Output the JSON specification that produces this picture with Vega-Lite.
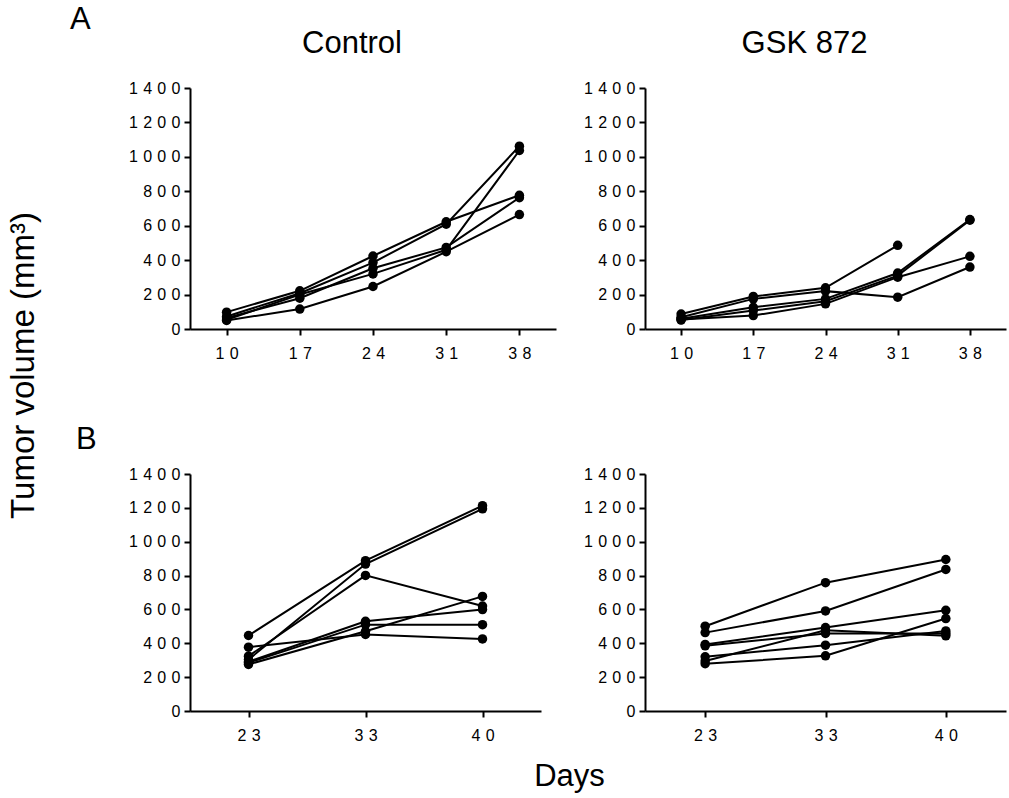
{
  "$schema": "https://vega.github.io/schema/vega-lite/v6.json",
  "background": "white",
  "padding": {"left": 6, "top": 4, "right": 2, "bottom": 2},
  "data": {"values": [
    {"panel": "A-Control", "mouse": "C1", "day": 10, "vol": 98},
    {"panel": "A-Control", "mouse": "C1", "day": 17, "vol": 222},
    {"panel": "A-Control", "mouse": "C1", "day": 24, "vol": 424},
    {"panel": "A-Control", "mouse": "C1", "day": 31, "vol": 623},
    {"panel": "A-Control", "mouse": "C1", "day": 38, "vol": 777},
    {"panel": "A-Control", "mouse": "C2", "day": 10, "vol": 73},
    {"panel": "A-Control", "mouse": "C2", "day": 17, "vol": 208},
    {"panel": "A-Control", "mouse": "C2", "day": 24, "vol": 386},
    {"panel": "A-Control", "mouse": "C2", "day": 31, "vol": 609},
    {"panel": "A-Control", "mouse": "C2", "day": 38, "vol": 1062},
    {"panel": "A-Control", "mouse": "C3", "day": 10, "vol": 64},
    {"panel": "A-Control", "mouse": "C3", "day": 17, "vol": 179},
    {"panel": "A-Control", "mouse": "C3", "day": 24, "vol": 353},
    {"panel": "A-Control", "mouse": "C3", "day": 31, "vol": 474},
    {"panel": "A-Control", "mouse": "C3", "day": 38, "vol": 763},
    {"panel": "A-Control", "mouse": "C4", "day": 10, "vol": 54},
    {"panel": "A-Control", "mouse": "C4", "day": 17, "vol": 200},
    {"panel": "A-Control", "mouse": "C4", "day": 24, "vol": 320},
    {"panel": "A-Control", "mouse": "C4", "day": 31, "vol": 460},
    {"panel": "A-Control", "mouse": "C4", "day": 38, "vol": 1037},
    {"panel": "A-Control", "mouse": "C5", "day": 10, "vol": 50},
    {"panel": "A-Control", "mouse": "C5", "day": 17, "vol": 116},
    {"panel": "A-Control", "mouse": "C5", "day": 24, "vol": 247},
    {"panel": "A-Control", "mouse": "C5", "day": 31, "vol": 449},
    {"panel": "A-Control", "mouse": "C5", "day": 38, "vol": 665},
    {"panel": "A-GSK", "mouse": "G1", "day": 10, "vol": 87},
    {"panel": "A-GSK", "mouse": "G1", "day": 17, "vol": 189},
    {"panel": "A-GSK", "mouse": "G1", "day": 24, "vol": 239},
    {"panel": "A-GSK", "mouse": "G1", "day": 31, "vol": 486},
    {"panel": "A-GSK", "mouse": "G2", "day": 10, "vol": 68},
    {"panel": "A-GSK", "mouse": "G2", "day": 17, "vol": 175},
    {"panel": "A-GSK", "mouse": "G2", "day": 24, "vol": 220},
    {"panel": "A-GSK", "mouse": "G2", "day": 31, "vol": 185},
    {"panel": "A-GSK", "mouse": "G2", "day": 38, "vol": 360},
    {"panel": "A-GSK", "mouse": "G3", "day": 10, "vol": 60},
    {"panel": "A-GSK", "mouse": "G3", "day": 17, "vol": 126},
    {"panel": "A-GSK", "mouse": "G3", "day": 24, "vol": 175},
    {"panel": "A-GSK", "mouse": "G3", "day": 31, "vol": 325},
    {"panel": "A-GSK", "mouse": "G3", "day": 38, "vol": 636},
    {"panel": "A-GSK", "mouse": "G4", "day": 10, "vol": 52},
    {"panel": "A-GSK", "mouse": "G4", "day": 17, "vol": 107},
    {"panel": "A-GSK", "mouse": "G4", "day": 24, "vol": 161},
    {"panel": "A-GSK", "mouse": "G4", "day": 31, "vol": 310},
    {"panel": "A-GSK", "mouse": "G4", "day": 38, "vol": 632},
    {"panel": "A-GSK", "mouse": "G5", "day": 10, "vol": 55},
    {"panel": "A-GSK", "mouse": "G5", "day": 17, "vol": 78},
    {"panel": "A-GSK", "mouse": "G5", "day": 24, "vol": 146},
    {"panel": "A-GSK", "mouse": "G5", "day": 31, "vol": 301},
    {"panel": "A-GSK", "mouse": "G5", "day": 38, "vol": 422},
    {"panel": "B-Control", "mouse": "C1", "day": 23, "vol": 446},
    {"panel": "B-Control", "mouse": "C1", "day": 33, "vol": 888},
    {"panel": "B-Control", "mouse": "C1", "day": 40, "vol": 1213},
    {"panel": "B-Control", "mouse": "C2", "day": 23, "vol": 304},
    {"panel": "B-Control", "mouse": "C2", "day": 33, "vol": 868},
    {"panel": "B-Control", "mouse": "C2", "day": 40, "vol": 1194},
    {"panel": "B-Control", "mouse": "C3", "day": 23, "vol": 324},
    {"panel": "B-Control", "mouse": "C3", "day": 33, "vol": 801},
    {"panel": "B-Control", "mouse": "C3", "day": 40, "vol": 620},
    {"panel": "B-Control", "mouse": "C4", "day": 23, "vol": 377},
    {"panel": "B-Control", "mouse": "C4", "day": 33, "vol": 452},
    {"panel": "B-Control", "mouse": "C4", "day": 40, "vol": 426},
    {"panel": "B-Control", "mouse": "C5", "day": 23, "vol": 291},
    {"panel": "B-Control", "mouse": "C5", "day": 33, "vol": 530},
    {"panel": "B-Control", "mouse": "C5", "day": 40, "vol": 599},
    {"panel": "B-Control", "mouse": "C6", "day": 23, "vol": 285},
    {"panel": "B-Control", "mouse": "C6", "day": 33, "vol": 510},
    {"panel": "B-Control", "mouse": "C6", "day": 40, "vol": 510},
    {"panel": "B-Control", "mouse": "C7", "day": 23, "vol": 275},
    {"panel": "B-Control", "mouse": "C7", "day": 33, "vol": 471},
    {"panel": "B-Control", "mouse": "C7", "day": 40, "vol": 677},
    {"panel": "B-GSK", "mouse": "G1", "day": 23, "vol": 501},
    {"panel": "B-GSK", "mouse": "G1", "day": 33, "vol": 758},
    {"panel": "B-GSK", "mouse": "G1", "day": 40, "vol": 895},
    {"panel": "B-GSK", "mouse": "G2", "day": 23, "vol": 463},
    {"panel": "B-GSK", "mouse": "G2", "day": 33, "vol": 591},
    {"panel": "B-GSK", "mouse": "G2", "day": 40, "vol": 836},
    {"panel": "B-GSK", "mouse": "G3", "day": 23, "vol": 393},
    {"panel": "B-GSK", "mouse": "G3", "day": 33, "vol": 493},
    {"panel": "B-GSK", "mouse": "G3", "day": 40, "vol": 595},
    {"panel": "B-GSK", "mouse": "G4", "day": 23, "vol": 385},
    {"panel": "B-GSK", "mouse": "G4", "day": 33, "vol": 458},
    {"panel": "B-GSK", "mouse": "G4", "day": 40, "vol": 458},
    {"panel": "B-GSK", "mouse": "G5", "day": 23, "vol": 320},
    {"panel": "B-GSK", "mouse": "G5", "day": 33, "vol": 389},
    {"panel": "B-GSK", "mouse": "G5", "day": 40, "vol": 473},
    {"panel": "B-GSK", "mouse": "G6", "day": 23, "vol": 295},
    {"panel": "B-GSK", "mouse": "G6", "day": 33, "vol": 477},
    {"panel": "B-GSK", "mouse": "G6", "day": 40, "vol": 444},
    {"panel": "B-GSK", "mouse": "G7", "day": 23, "vol": 279},
    {"panel": "B-GSK", "mouse": "G7", "day": 33, "vol": 326},
    {"panel": "B-GSK", "mouse": "G7", "day": 40, "vol": 546}
  ]},
  "title": {"text": "A", "anchor": "start", "frame": "bounds", "dx": 63, "offset": -8},
  "columns": 2,
  "bounds": "flush",
  "spacing": {"row": 145, "column": 89},
  "concat": [
    {
      "width": 366, "height": 241,
      "title": {"text": "Control", "dx": -21, "offset": 20},
      "transform": [{"filter": "datum.panel === 'A-Control'"}],
      "encoding": {
        "x": {"field": "day", "type": "ordinal", "scale": {"type": "point", "padding": 0.5},
              "axis": {"title": null, "labelAngle": 0, "labelExpr": "join(split(toString(datum.value), ''), '\u2004')"}},
        "y": {"field": "vol", "type": "quantitative", "scale": {"domain": [0, 1400], "nice": false},
              "axis": {"values": [0, 200, 400, 600, 800, 1000, 1200, 1400],
                       "labelExpr": "join(split(toString(datum.value), ''), '\u2004')",
                       "title": "Tumor volume (mm³)", "titleX": -157, "titleY": 277, "titleAngle": -90,
                       "titleBaseline": "alphabetic", "titleAlign": "center", "titleFontSize": 33, "titleFontWeight": "normal"}}
      },
      "layer": [
        {"mark": {"type": "line", "color": "black", "strokeWidth": 2}, "encoding": {"detail": {"field": "mouse"}}},
        {"mark": {"type": "point", "filled": true, "color": "black", "size": 90, "opacity": 1}}
      ]
    },
    {
      "width": 361, "height": 241,
      "title": {"text": "GSK 872", "dx": -21, "offset": 20},
      "transform": [{"filter": "datum.panel === 'A-GSK'"}],
      "encoding": {
        "x": {"field": "day", "type": "ordinal", "scale": {"type": "point", "padding": 0.5},
              "axis": {"title": null, "labelAngle": 0, "labelExpr": "join(split(toString(datum.value), ''), '\u2004')"}},
        "y": {"field": "vol", "type": "quantitative", "scale": {"domain": [0, 1400], "nice": false},
              "axis": {"values": [0, 200, 400, 600, 800, 1000, 1200, 1400], "title": null,
                       "labelExpr": "join(split(toString(datum.value), ''), '\u2004')"}}
      },
      "layer": [
        {"mark": {"type": "line", "color": "black", "strokeWidth": 2}, "encoding": {"detail": {"field": "mouse"}}},
        {"mark": {"type": "point", "filled": true, "color": "black", "size": 90, "opacity": 1}}
      ]
    },
    {
      "width": 351, "height": 237,
      "title": {"text": "B", "anchor": "start", "frame": "group", "dx": -114, "offset": 10},
      "transform": [{"filter": "datum.panel === 'B-Control'"}],
      "encoding": {
        "x": {"field": "day", "type": "ordinal", "scale": {"type": "point", "padding": 0.5},
              "axis": {"labelAngle": 0, "labelExpr": "join(split(toString(datum.value), ''), '\u2004')",
                       "title": "Days", "titleX": 379, "titleY": 74, "titleBaseline": "alphabetic", "titleAlign": "center",
                       "titleFontSize": 31, "titleFontWeight": "normal"}},
        "y": {"field": "vol", "type": "quantitative", "scale": {"domain": [0, 1400], "nice": false},
              "axis": {"values": [0, 200, 400, 600, 800, 1000, 1200, 1400], "title": null,
                       "labelExpr": "join(split(toString(datum.value), ''), '\u2004')"}}
      },
      "layer": [
        {"mark": {"type": "line", "color": "black", "strokeWidth": 2}, "encoding": {"detail": {"field": "mouse"}}},
        {"mark": {"type": "point", "filled": true, "color": "black", "size": 90, "opacity": 1}}
      ]
    },
    {
      "width": 361, "height": 237,
      "transform": [{"filter": "datum.panel === 'B-GSK'"}],
      "encoding": {
        "x": {"field": "day", "type": "ordinal", "scale": {"type": "point", "padding": 0.5},
              "axis": {"title": null, "labelAngle": 0, "labelExpr": "join(split(toString(datum.value), ''), '\u2004')"}},
        "y": {"field": "vol", "type": "quantitative", "scale": {"domain": [0, 1400], "nice": false},
              "axis": {"values": [0, 200, 400, 600, 800, 1000, 1200, 1400], "title": null,
                       "labelExpr": "join(split(toString(datum.value), ''), '\u2004')"}}
      },
      "layer": [
        {"mark": {"type": "line", "color": "black", "strokeWidth": 2}, "encoding": {"detail": {"field": "mouse"}}},
        {"mark": {"type": "point", "filled": true, "color": "black", "size": 90, "opacity": 1}}
      ]
    }
  ],
  "config": {
    "view": {"stroke": null},
    "font": "Liberation Sans",
    "title": {"font": "Liberation Sans", "fontSize": 31, "fontWeight": "normal", "color": "black"},
    "axis": {"domainColor": "black", "domainWidth": 2, "tickColor": "black", "tickWidth": 2, "tickSize": 6,
             "labelColor": "black", "labelFont": "Liberation Sans", "labelFontSize": 16, "grid": false,
             "titleColor": "black", "titleFont": "Liberation Sans"},
    "axisX": {"labelPadding": 10},
    "axisY": {"labelPadding": 4}
  }
}
